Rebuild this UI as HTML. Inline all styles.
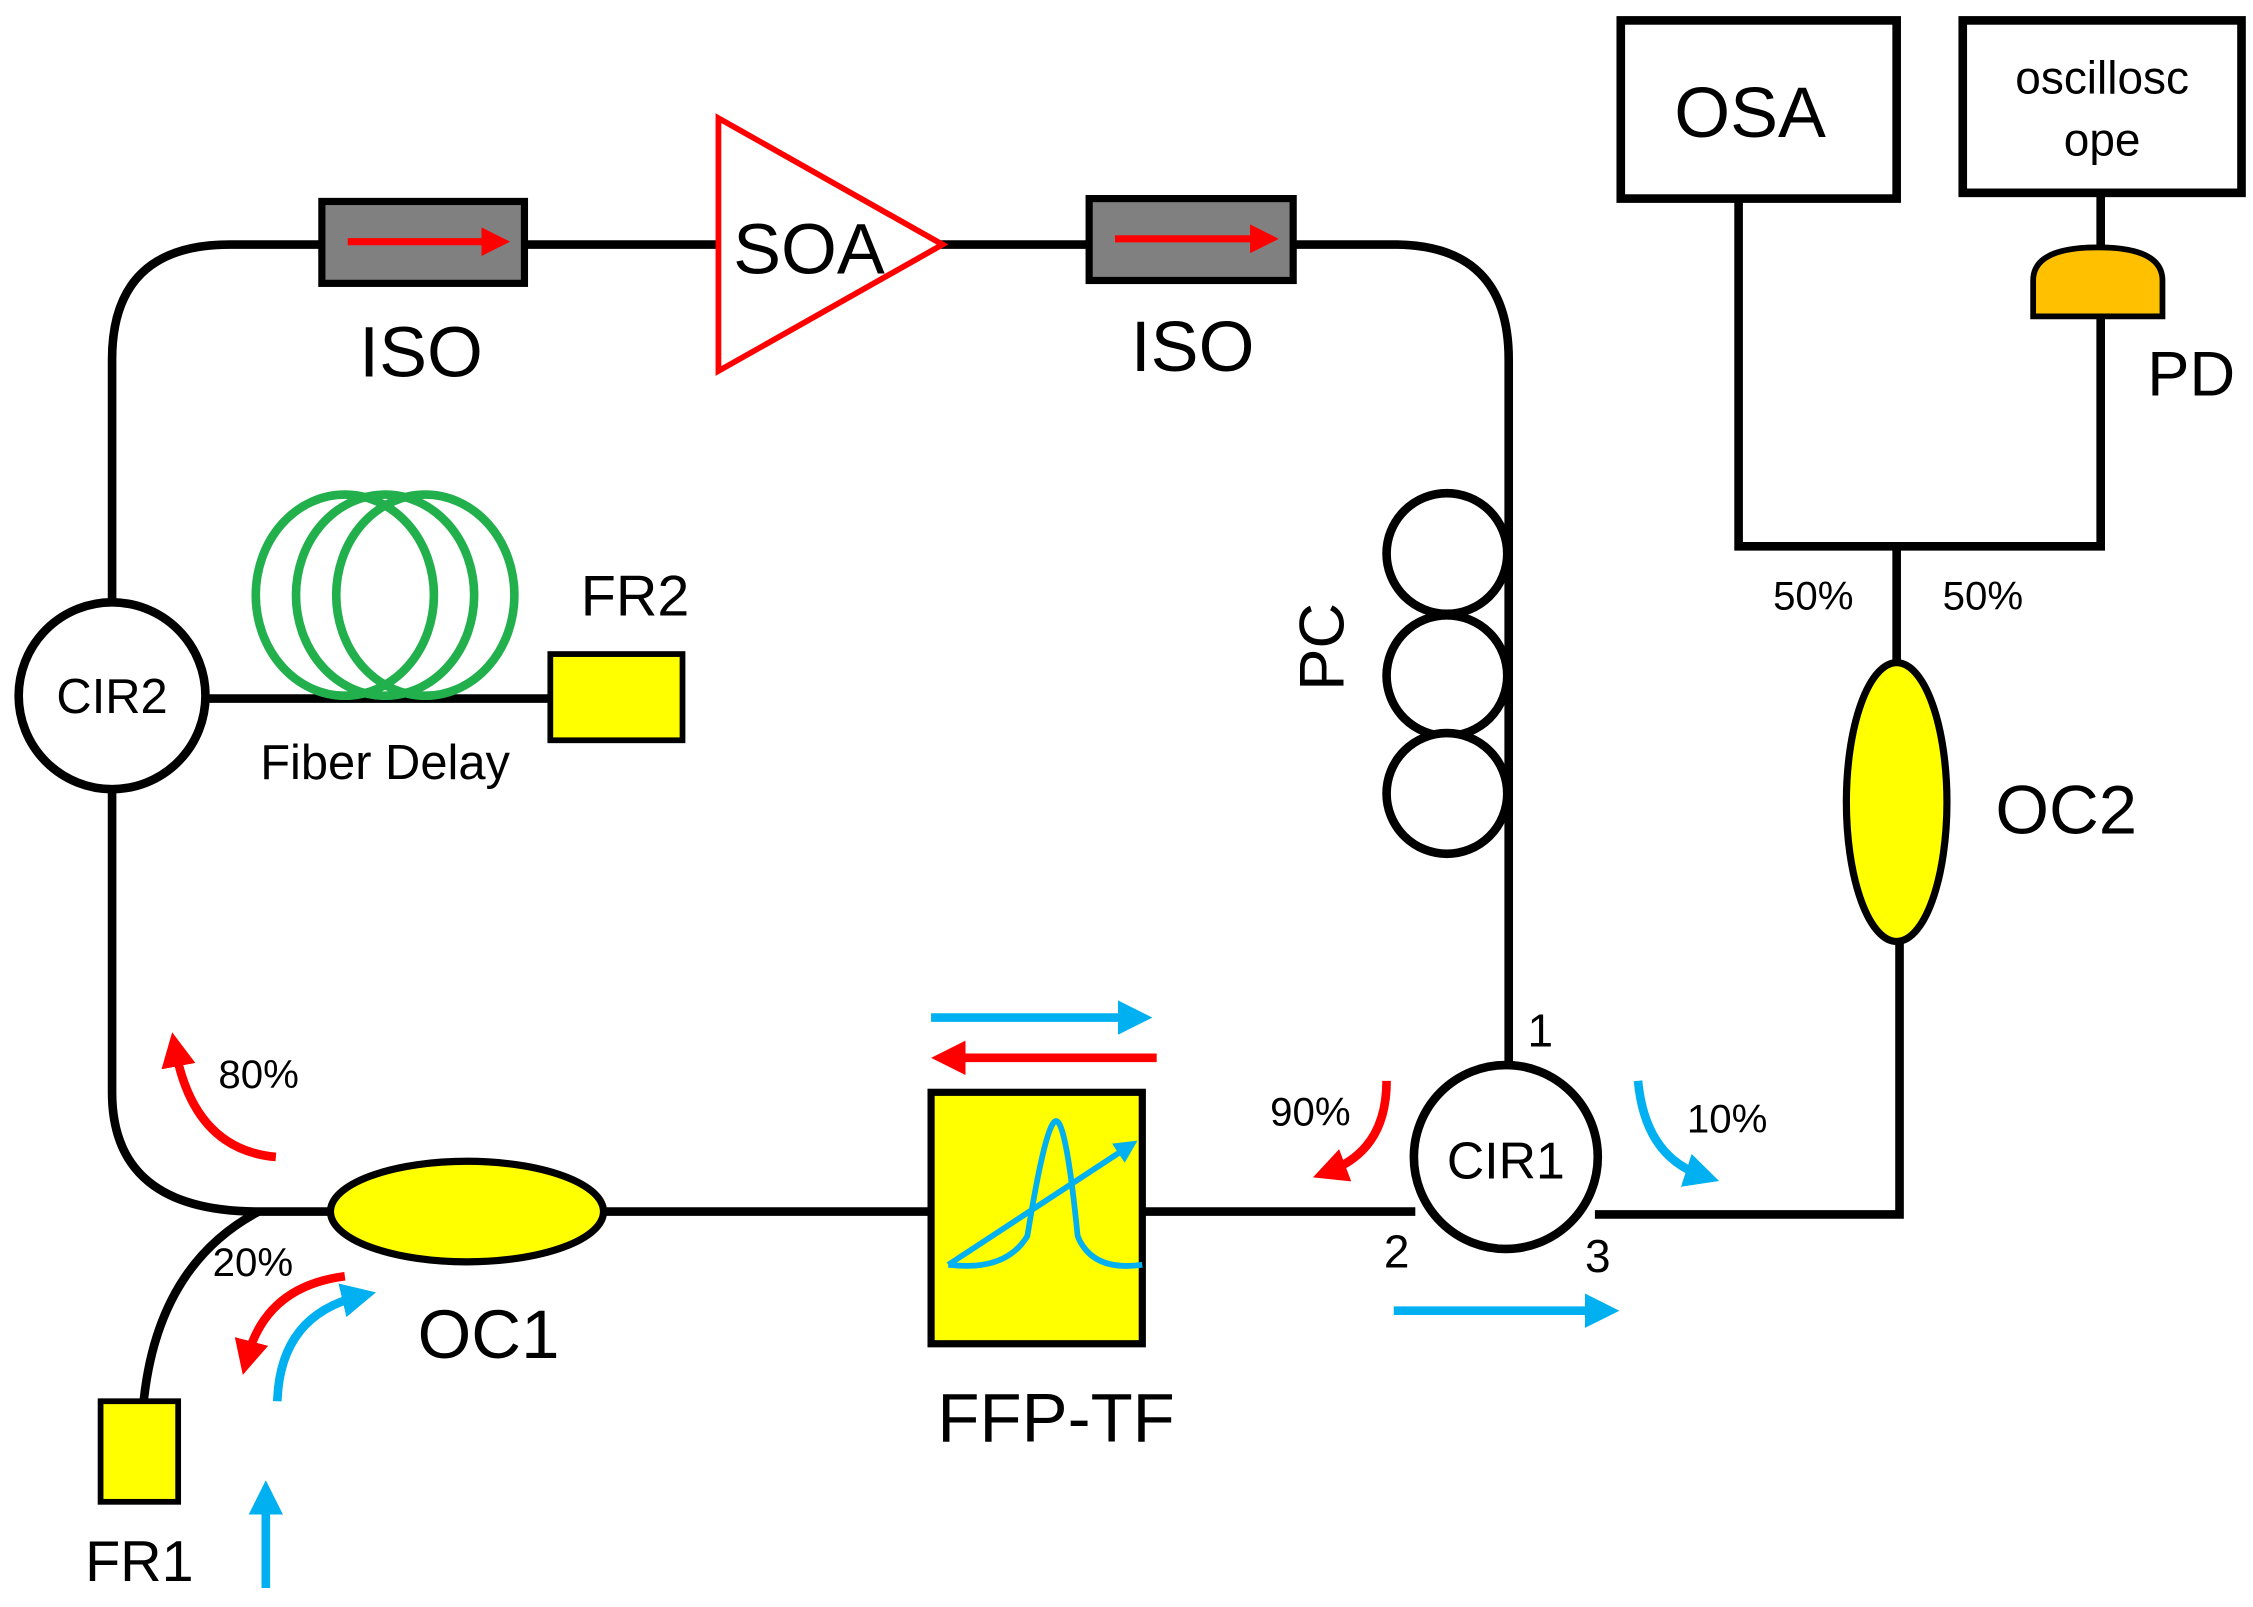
<!DOCTYPE html>
<html><head><meta charset="utf-8"><style>html,body{margin:0;padding:0;background:#fff}svg{display:block}</style></head>
<body>
<svg width="2253" height="1607" viewBox="0 0 1568 1118" xmlns="http://www.w3.org/2000/svg" font-family="Liberation Sans, sans-serif">
<defs>
<marker id="rb" markerWidth="4" markerHeight="4" refX="2" refY="2" orient="auto" markerUnits="strokeWidth"><path d="M0,0 L4,2 L0,4 z" fill="#ff0000"/></marker>
<marker id="bb" markerWidth="4" markerHeight="4" refX="2" refY="2" orient="auto" markerUnits="strokeWidth"><path d="M0,0 L4,2 L0,4 z" fill="#00b0f0"/></marker>
</defs>
<g fill="none" stroke="#000" stroke-width="6">
<path d="M78,420 V250 Q78,170 160,170 H900"/>
<path d="M900,170 H970 Q1050,170 1050,250 V742"/>
<path d="M78,549 V760 Q78,843 180,843 H985"/>
<path d="M1110,845 H1322 V655"/>
<path d="M1320,462 V380"/>
<path d="M1210,140 V380 H1462 V220"/>
<path d="M1462,134 V172"/>
<path d="M100,975 Q110,880 180,843"/>
<line x1="143" y1="486" x2="383" y2="486"/>
</g>
<rect x="224" y="140" width="141" height="57" fill="#808080" stroke="#000" stroke-width="5"/>
<line x1="242" y1="168" x2="345" y2="168" stroke="#f00" stroke-width="5" marker-end="url(#rb)"/>
<rect x="758" y="138" width="142" height="57" fill="#808080" stroke="#000" stroke-width="5"/>
<line x1="776" y1="166" x2="880" y2="166" stroke="#f00" stroke-width="5" marker-end="url(#rb)"/>
<text x="293" y="262" font-size="50" text-anchor="middle">ISO</text>
<text x="830" y="258" font-size="50" text-anchor="middle">ISO</text>
<polygon points="500,82 500,258 656,170" fill="#fff" stroke="#f00" stroke-width="4"/>
<text x="563" y="190" font-size="50" text-anchor="middle">SOA</text>
<circle cx="78" cy="484" r="65" fill="#fff" stroke="#000" stroke-width="6"/>
<text x="78" y="496" font-size="34" text-anchor="middle">CIR2</text>
<g fill="none" stroke="#22b04c" stroke-width="6">
<ellipse cx="240" cy="414" rx="62" ry="70"/>
<ellipse cx="268" cy="414" rx="62" ry="70"/>
<ellipse cx="296" cy="414" rx="62" ry="70"/>
</g>
<rect x="383" y="455" width="92" height="60" fill="#ffff00" stroke="#000" stroke-width="4"/>
<text x="442" y="428" font-size="40" text-anchor="middle">FR2</text>
<text x="268" y="542" font-size="34" text-anchor="middle">Fiber Delay</text>
<g fill="#fff" stroke="#000" stroke-width="6">
<circle cx="1007" cy="385" r="42"/><circle cx="1007" cy="470" r="42"/><circle cx="1007" cy="552" r="42"/>
</g>
<text x="0" y="0" font-size="44" text-anchor="middle" transform="translate(935,450) rotate(-90)">PC</text>
<circle cx="1048" cy="805" r="64" fill="#fff" stroke="#000" stroke-width="6"/>
<text x="1048" y="820" font-size="36" text-anchor="middle">CIR1</text>
<text x="1072" y="728" font-size="32" text-anchor="middle">1</text>
<text x="972" y="882" font-size="32" text-anchor="middle">2</text>
<text x="1112" y="885" font-size="32" text-anchor="middle">3</text>
<ellipse cx="325" cy="843" rx="95" ry="35" fill="#ffff00" stroke="#000" stroke-width="5"/>
<text x="340" y="945" font-size="48" text-anchor="middle">OC1</text>
<rect x="648" y="760" width="147" height="175" fill="#ffff00" stroke="#000" stroke-width="5"/>
<path d="M660,880 Q700,885 715,860 Q728,780 735,780 Q742,780 750,860 Q760,885 795,880" fill="none" stroke="#00b0f0" stroke-width="4"/>
<line x1="660" y1="880" x2="785" y2="798" stroke="#00b0f0" stroke-width="4" marker-end="url(#bb)"/>
<text x="735" y="1003" font-size="48" text-anchor="middle">FFP-TF</text>
<line x1="648" y1="708" x2="790" y2="708" stroke="#00b0f0" stroke-width="6" marker-end="url(#bb)"/>
<line x1="805" y1="736" x2="660" y2="736" stroke="#f00" stroke-width="6" marker-end="url(#rb)"/>
<rect x="70" y="975" width="54" height="70" fill="#ffff00" stroke="#000" stroke-width="4"/>
<text x="97" y="1100" font-size="40" text-anchor="middle">FR1</text>
<ellipse cx="1320" cy="558" rx="35" ry="97" fill="#ffff00" stroke="#000" stroke-width="5"/>
<text x="1438" y="580" font-size="48" text-anchor="middle">OC2</text>
<text x="1262" y="424" font-size="28" text-anchor="middle">50%</text>
<text x="1380" y="424" font-size="28" text-anchor="middle">50%</text>
<rect x="1128" y="14" width="192" height="124" fill="#fff" stroke="#000" stroke-width="6"/>
<text x="1218" y="95" font-size="50" text-anchor="middle">OSA</text>
<rect x="1366" y="14" width="194" height="120" fill="#fff" stroke="#000" stroke-width="6"/>
<text x="1463" y="65" font-size="32" text-anchor="middle">oscillosc</text>
<text x="1463" y="108" font-size="32" text-anchor="middle">ope</text>
<path d="M1415,220 V195 Q1415,172 1460,172 Q1505,172 1505,195 V220 Z" fill="#ffc000" stroke="#000" stroke-width="4"/>
<text x="1525" y="275" font-size="44" text-anchor="middle">PD</text>
<path d="M192,805 Q135,800 122,730" fill="none" stroke="#f00" stroke-width="6" marker-end="url(#rb)"/>
<text x="180" y="757" font-size="28" text-anchor="middle">80%</text>
<text x="176" y="888" font-size="28" text-anchor="middle">20%</text>
<path d="M240,888 Q185,895 172,945" fill="none" stroke="#f00" stroke-width="6" marker-end="url(#rb)"/>
<path d="M193,975 Q195,915 250,902" fill="none" stroke="#00b0f0" stroke-width="6" marker-end="url(#bb)"/>
<line x1="185" y1="1105" x2="185" y2="1042" stroke="#00b0f0" stroke-width="6" marker-end="url(#bb)"/>
<path d="M965,752 Q965,800 925,815" fill="none" stroke="#f00" stroke-width="6" marker-end="url(#rb)"/>
<text x="912" y="783" font-size="28" text-anchor="middle">90%</text>
<path d="M1140,752 Q1145,805 1185,818" fill="none" stroke="#00b0f0" stroke-width="6" marker-end="url(#bb)"/>
<text x="1202" y="788" font-size="28" text-anchor="middle">10%</text>
<line x1="970" y1="912" x2="1115" y2="912" stroke="#00b0f0" stroke-width="6" marker-end="url(#bb)"/>
</svg>
</body></html>
